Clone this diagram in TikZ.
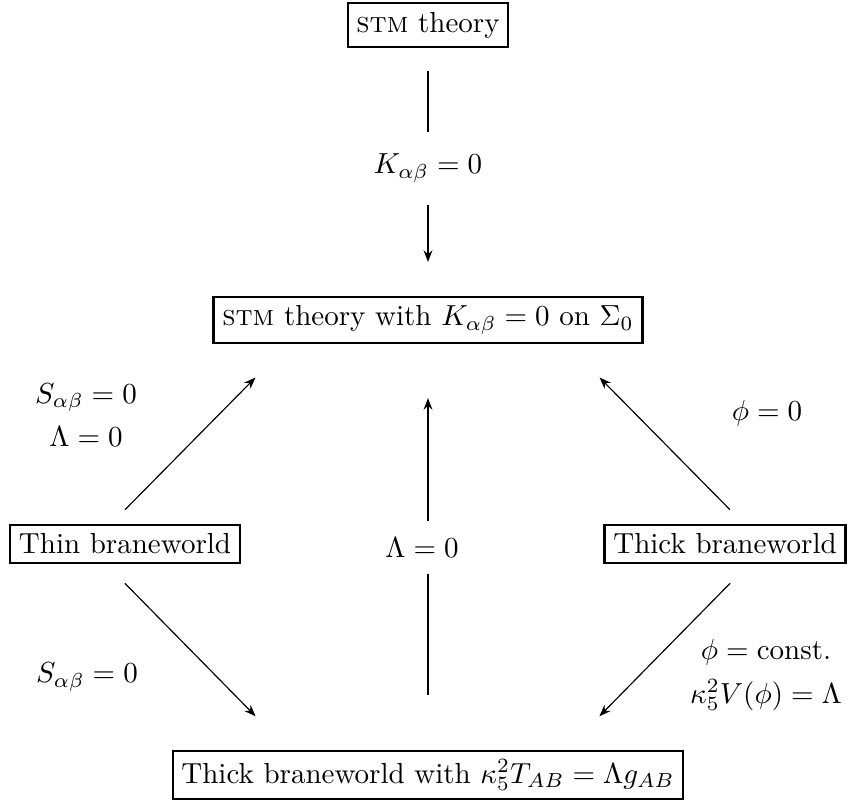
\documentclass[tikz,border=0pt]{standalone}
\usepackage{amsmath,amssymb}
\usepackage{tikz}
\usetikzlibrary{calc,arrows.meta}

\begin{document}
\begin{tikzpicture}[
  x=0.3448pt,
  y=-0.3448pt,
  >={Stealth[length=4pt,width=3pt]},
  every node/.style={align=center},
  box/.style={draw, thick, inner sep=3pt},
  lbl/.style={inner sep=0pt},
  varr/.style={line width=0.7pt},
  darr/.style={line width=0.4pt}
]
\useasboundingbox (0,0) rectangle (851,799);

\node[box] (stm) at (428,25) {\textsc{stm} theory};
\node[lbl] (klab) at (428,168) {$K_{\alpha\beta}=0$};
\node[box] (stmk) at (428,320) {\textsc{stm} theory with $K_{\alpha\beta}=0$ on $\Sigma_0$};
\node[box] (thin) at (125,544) {Thin braneworld};
\node[lbl] (lam) at (422,548) {$\Lambda=0$};
\node[box] (thick) at (725,544) {Thick braneworld};
\node[box] (thickl) at (428,775) {Thick braneworld with $\kappa_5^2T_{AB}=\Lambda g_{AB}$};

\node[lbl] (slam) at (86,415) {$S_{\alpha\beta}=0$\\[3pt]$\Lambda=0$};
\node[lbl] (phizero) at (767,413) {$\phi=0$};
\node[lbl] (sbot) at (87,677) {$S_{\alpha\beta}=0$};
\node[lbl] (phiconst) at (766,675) {$\phi=\text{const.}$\\[3pt]$\kappa_5^2V(\phi)=\Lambda$};

% vertical chains
\draw[varr, shorten <=7.9pt, shorten >=7.2pt] (stm) -- (klab);
\draw[varr, ->, shorten <=7.6pt, shorten >=11.7pt] (klab) -- (stmk);
\draw[varr, shorten <=19pt, shorten >=9pt] (thickl) -- (428,548);
\draw[varr, ->, shorten <=9.3pt, shorten >=18.6pt] (428,548) -- (stmk);

% diagonals
\draw[darr, ->, shorten <=6.9pt, shorten >=16.2pt]
  ($(thin.north)+(-14,0)$) -- ($(stmk.south west)+(76,0)$);
\draw[darr, ->, shorten <=6.9pt, shorten >=16.2pt]
  ($(thick.north)+(19,0)$) -- ($(stmk.south east)+(-77,0)$);
\draw[darr, ->, shorten <=9.3pt, shorten >=16.2pt]
  ($(thin.south)+(-19,0)$) -- ($(thickl.north west)+(117,0)$);
\draw[darr, ->, shorten <=9.3pt, shorten >=16.2pt]
  ($(thick.south)+(24,0)$) -- ($(thickl.north east)+(-118,0)$);
\end{tikzpicture}
\end{document}
